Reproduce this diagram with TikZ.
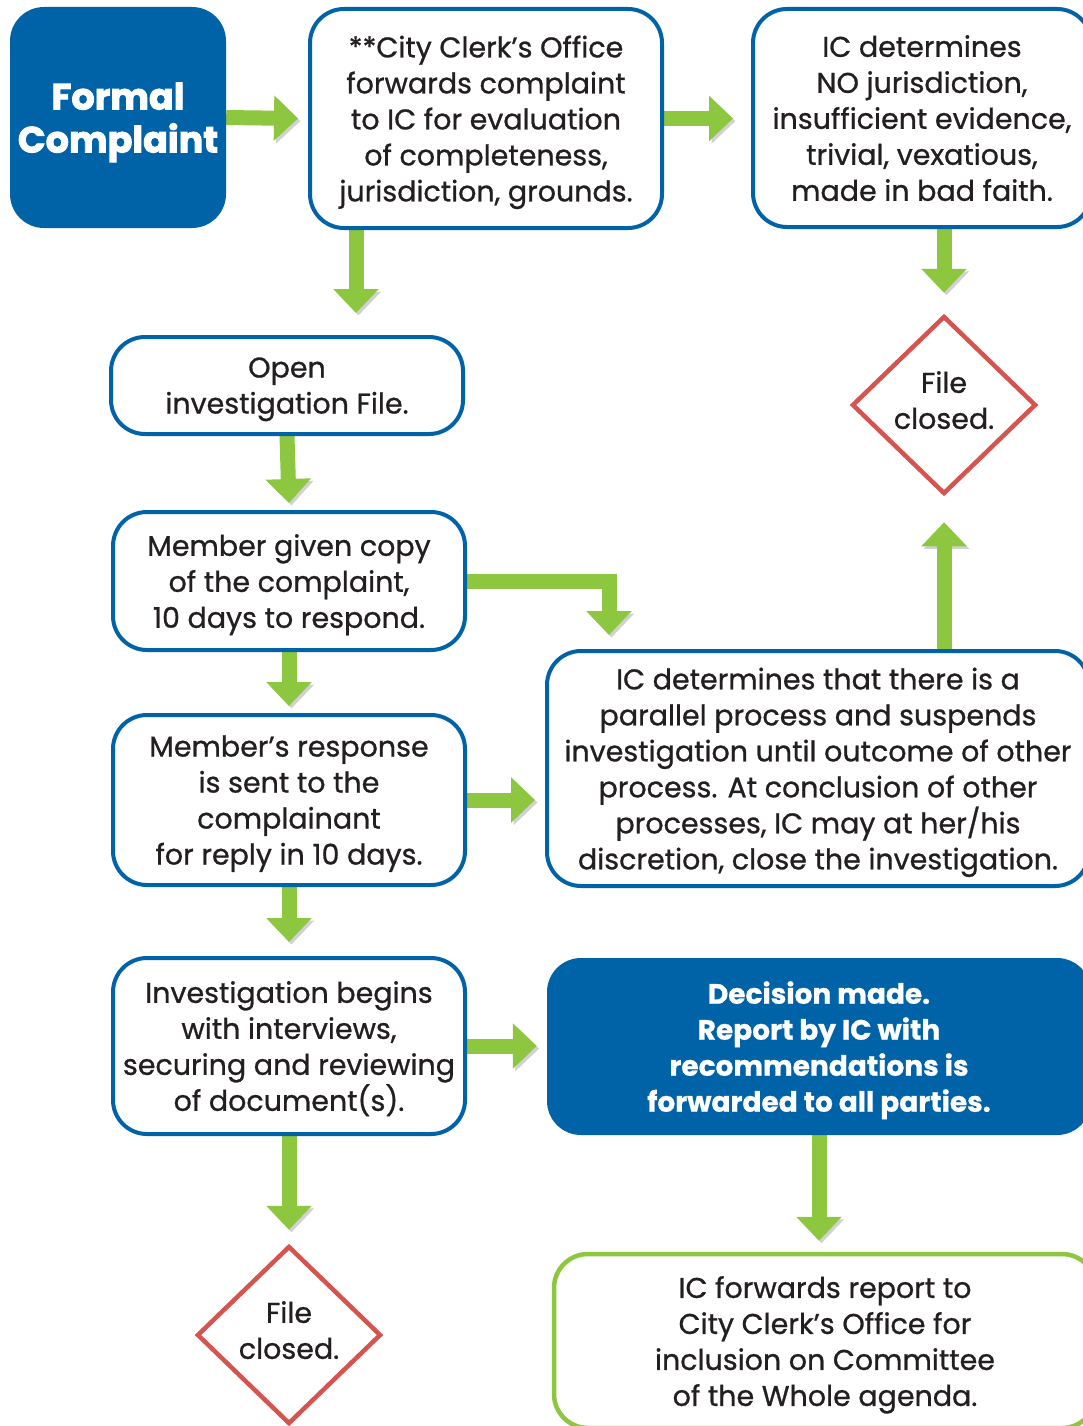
\documentclass[tikz,border=0pt]{standalone}
\usepackage{fontspec}
\setmainfont{Poppins}[FakeBold=0.8]
\usetikzlibrary{arrows.meta,shapes.geometric,backgrounds}
\definecolor{cblue}{HTML}{0063A8}
\definecolor{cgreen}{HTML}{8DC63F}
\definecolor{cred}{HTML}{D6544F}
\definecolor{ctext}{HTML}{231F20}
\tikzset{
  box/.style={rounded corners=34pt,align=center,text=ctext,inner sep=0pt,
    font=\fontsize{28.5}{36}\selectfont,text depth=-4pt},
  startbox/.style={box,fill=cblue,text=white,minimum width=216pt,minimum height=221pt,
    font=\fontsize{36.5}{43}\selectfont\bfseries\addfontfeature{FakeBold=2.5},text depth=-6pt},
  stepbox/.style={box,draw=cblue,fill=white,line width=4pt},
  decbox/.style={box,fill=cblue,text=white,font=\fontsize{28}{36}\selectfont\bfseries},
  endbox/.style={box,draw=cgreen,fill=white,line width=4.5pt},
  closed/.style={diamond,draw=cred,fill=white,line width=4.5pt,inner sep=0pt,
    minimum width=184pt,minimum height=178pt,align=center,text=ctext,
    font=\fontsize{28.5}{36}\selectfont,execute at end node={\rule[-10pt]{0pt}{10pt}}},
  flow/.style={draw=cgreen,line width=15pt,-{Triangle[width=44pt,length=24pt]},
    preaction={draw=black!18,transform canvas={shift={(2.5pt,-2.5pt)}}}}
}
\begin{document}
\begin{tikzpicture}[x=1pt,y=-1pt]
  \useasboundingbox (0,0) rectangle (1083,1426);
  \node[startbox] (complaint) at (118,117.5) {Formal\\Complaint};
  \node[stepbox,minimum width=352pt,minimum height=219pt] (clerk) at (486,118.5)
    {**City Clerk’s Office\\forwards complaint\\to IC for evaluation\\of completeness,\\jurisdiction, grounds.};
  \node[stepbox,minimum width=338pt,minimum height=218pt] (nojur) at (922,118)
    {IC determines\\NO jurisdiction,\\insufficient evidence,\\trivial, vexatious,\\made in bad faith.};
  \node[closed] (closedA) at (944,405) {File\\closed.};
  \node[stepbox,minimum width=352pt,minimum height=97pt] (open) at (287,385.5)
    {Open\\investigation File.};
  \node[stepbox,minimum width=352pt,minimum height=138pt] (copy) at (289,581)
    {Member given copy\\of the complaint,\\10 days to respond.};
  \node[stepbox,minimum width=352pt,minimum height=170pt] (response) at (289,800)
    {Member’s response\\is sent to the\\complainant\\for reply in 10 days.};
  \node[stepbox,minimum width=352pt,minimum height=176pt] (interview) at (289,1046)
    {Investigation begins\\with interviews,\\securing and reviewing\\of document(s).};
  \node[closed] (closedB) at (289,1335) {File\\closed.};
  \node[stepbox,minimum width=542pt,minimum height=235pt] (parallel) at (818,768.5)
    {IC determines that there is a\\parallel process and suspends\\investigation until outcome of other\\process. At conclusion of other\\processes, IC may at her/his\\discretion, close the investigation.};
  \node[decbox,minimum width=544pt,minimum height=177pt] (decision) at (819,1046.5)
    {Decision made.\\Report by IC with\\recommendations is\\forwarded to all parties.};
  \node[endbox,minimum width=542pt,minimum height=174pt] (forward) at (825,1341)
    {IC forwards report to\\City Clerk’s Office for\\inclusion on Committee\\of the Whole agenda.};
  \begin{scope}[on background layer]
    \draw[flow] (complaint.east) -- ([xshift=-10pt]clerk.west);
    \draw[flow] (clerk.east) -- ([xshift=-18pt]nojur.west |- clerk.east);
    \draw[flow] ([xshift=-130pt]clerk.south) -- ([xshift=-130pt,yshift=22pt]clerk.south |- open.north);
    \draw[flow] (closedA.north |- nojur.south) -- ([yshift=21pt]closedA.north);
    \foreach \a/\b/\s in {open/copy/7,copy/response/7,response/interview/14,interview/closedB/14}
      \draw[flow] (\a.south) -- ([yshift=\s pt]\b.north);
    \draw[flow] (copy.east) -| ([xshift=64pt,yshift=14pt]parallel.north west);
    \draw[flow] (response.east) -- ([xshift=-10pt]parallel.west |- response.east);
    \draw[flow] (interview.east) -- ([xshift=-10pt]decision.west |- interview.east);
    \draw[flow] (closedA.south |- parallel.north) -- ([yshift=-26pt]closedA.south);
    \draw[flow] (decision.south) -- ([yshift=11pt]decision.south |- forward.north);
  \end{scope}
\end{tikzpicture}
\end{document}
